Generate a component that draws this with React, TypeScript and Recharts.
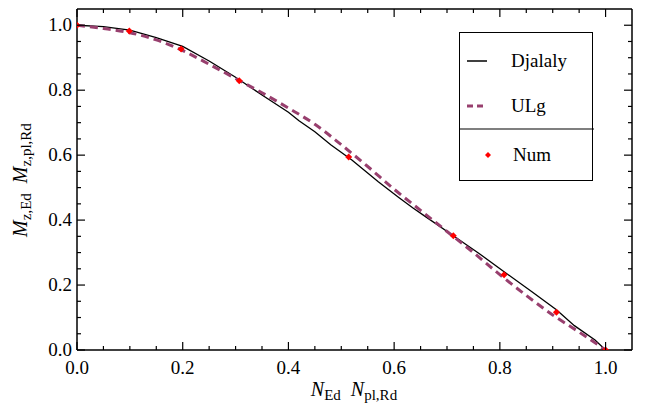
import React from "react";
import {
  ComposedChart,
  Line,
  Scatter,
  XAxis,
  YAxis,
  Legend,
} from "recharts";

// Djalaly interaction curve (N/Npl, M/Mpl)
const djalalyN = [0, 0.05, 0.1, 0.15, 0.2, 0.25, 0.3, 0.35, 0.4, 0.42, 0.45, 0.48, 0.52, 0.57, 0.61, 0.635, 0.66, 0.712, 0.76, 0.808, 0.86, 0.907, 0.941, 0.98, 1.0];
const djalalyM = [1.0, 0.996, 0.985, 0.962, 0.935, 0.89, 0.84, 0.785, 0.732, 0.706, 0.672, 0.632, 0.585, 0.518, 0.468, 0.438, 0.41, 0.352, 0.298, 0.241, 0.18, 0.124, 0.075, 0.031, 0.0];

// ULg curve
const ulgN = [0, 0.05, 0.1, 0.15, 0.2, 0.25, 0.3, 0.35, 0.4, 0.45, 0.5, 0.55, 0.6, 0.65, 0.7, 0.75, 0.8, 0.85, 0.9, 0.95, 1.0];
const ulgM = [1.0, 0.99, 0.977, 0.955, 0.922, 0.88, 0.836, 0.792, 0.745, 0.695, 0.632, 0.565, 0.495, 0.43, 0.365, 0.3, 0.232, 0.168, 0.108, 0.055, 0.0];

// Numerical results
const numN = [0, 0.099, 0.197, 0.307, 0.514, 0.712, 0.808, 0.907, 1.0];
const numM = [1.0, 0.982, 0.927, 0.829, 0.594, 0.352, 0.232, 0.116, 0.0];

const minorTicks = [0, 0.05, 0.1, 0.15, 0.2, 0.25, 0.3, 0.35, 0.4, 0.45, 0.5, 0.55, 0.6, 0.65, 0.7, 0.75, 0.8, 0.85, 0.9, 0.95, 1.0];

const djalalyData = djalalyN.map((n, i) => ({ n, m: djalalyM[i] }));
const ulgData = ulgN.map((n, i) => ({ n, m: ulgM[i] }));
const numData = numN.map((n, i) => ({ n, m: numM[i] }));

const FONT = "Liberation Serif";
const PURPLE = "#983f6e";

const isMajor = (v: number) => Math.abs(v * 5 - Math.round(v * 5)) < 1e-6;

const BottomTick = (props: any) => {
  const { x, y, payload } = props;
  const v = payload.value;
  const major = isMajor(v);
  return (
    <g>
      <line x1={x} x2={x} y1={y} y2={y - (major ? 8 : 4)} stroke="#000" strokeWidth={1.2} />
      {major && (
        <text x={x} y={y + 24} textAnchor="middle" style={{ fontFamily: FONT }} fontSize={19} fill="#000">
          {v.toFixed(1)}
        </text>
      )}
    </g>
  );
};

const TopTick = (props: any) => {
  const { x, y, payload } = props;
  const major = isMajor(payload.value);
  return <line x1={x} x2={x} y1={y} y2={y + (major ? 8 : 4)} stroke="#000" strokeWidth={1.2} />;
};

const LeftTick = (props: any) => {
  const { x, y, payload } = props;
  const v = payload.value;
  const major = isMajor(v);
  return (
    <g>
      <line x1={x} x2={x + (major ? 8 : 4)} y1={y} y2={y} stroke="#000" strokeWidth={1.2} />
      {major && (
        <text x={x - 5} y={y + 6} textAnchor="end" style={{ fontFamily: FONT }} fontSize={19} fill="#000">
          {v.toFixed(1)}
        </text>
      )}
    </g>
  );
};

const RightTick = (props: any) => {
  const { x, y, payload } = props;
  const major = isMajor(payload.value);
  return <line x1={x} x2={x - (major ? 8 : 4)} y1={y} y2={y} stroke="#000" strokeWidth={1.2} />;
};

const NumMarker = (props: any) => {
  const { cx, cy } = props;
  return (
    <path
      d={`M${cx - 3.5},${cy} L${cx},${cy - 3.5} L${cx + 3.5},${cy} L${cx},${cy + 3.5} Z`}
      fill="#ff0000"
    />
  );
};

const LegendBox = () => (
  <div
    style={{
      width: 134,
      height: 149,
      border: "1.2px solid #000",
      boxSizing: "border-box",
      background: "#fff",
      position: "relative",
    }}
  >
    <svg width={134} height={149} style={{ position: "absolute", left: 0, top: 0, fontFamily: FONT }}>
      <line x1={7} x2={27} y1={28} y2={28} stroke="#000" strokeWidth={1.5} />
      <line x1={7} x2={27} y1={73} y2={73} stroke={PURPLE} strokeWidth={3} strokeDasharray="6 4" />
      <line x1={0} x2={134} y1={96} y2={96} stroke="#000" strokeWidth={1.2} />
      <path d="M28,119 L31,122 L28,125 L25,122 Z" fill="#ff0000" />
      <text x={51} y={34} fontSize={19}>Djalaly</text>
      <text x={51} y={79} fontSize={19}>ULg</text>
      <text x={53} y={128} fontSize={19}>Num</text>
    </svg>
  </div>
);

export default function App() {
  return (
    <div style={{ position: "absolute", left: 0, top: 0, width: 651, height: 416, background: "#fff", fontFamily: FONT }}>
      <ComposedChart width={651} height={416} margin={{ top: 8, right: 18, bottom: 65, left: 76 }}>
        <XAxis
          xAxisId="b"
          type="number"
          dataKey="n"
          domain={[0, 1.05]}
          ticks={minorTicks}
          orientation="bottom"
          height={1}
          tickSize={0}
          tickMargin={0}
          tick={<BottomTick />}
          axisLine={{ stroke: "#000", strokeWidth: 1.5 }}
          allowDataOverflow
          interval={0}
        />
        <XAxis
          xAxisId="t"
          type="number"
          dataKey="n"
          domain={[0, 1.05]}
          ticks={minorTicks}
          orientation="top"
          height={1}
          tickSize={0}
          tickMargin={0}
          tick={<TopTick />}
          axisLine={{ stroke: "#000", strokeWidth: 1.5 }}
          allowDataOverflow
          interval={0}
        />
        <YAxis
          yAxisId="l"
          type="number"
          dataKey="m"
          domain={[0, 1.05]}
          ticks={minorTicks}
          orientation="left"
          width={1}
          tickSize={0}
          tickMargin={0}
          tick={<LeftTick />}
          axisLine={{ stroke: "#000", strokeWidth: 1.5 }}
          allowDataOverflow
          interval={0}
        />
        <YAxis
          yAxisId="r"
          type="number"
          dataKey="m"
          domain={[0, 1.05]}
          ticks={minorTicks}
          orientation="right"
          width={1}
          tickSize={0}
          tickMargin={0}
          tick={<RightTick />}
          axisLine={{ stroke: "#000", strokeWidth: 1.5 }}
          allowDataOverflow
          interval={0}
        />
        <Line
          xAxisId="b"
          yAxisId="l"
          data={djalalyData}
          dataKey="m"
          type="linear"
          stroke="#000"
          strokeWidth={1.3}
          dot={false}
          isAnimationActive={false}
          name="Djalaly"
        />
        <Line
          xAxisId="b"
          yAxisId="l"
          data={ulgData}
          dataKey="m"
          type="monotone"
          stroke={PURPLE}
          strokeWidth={3}
          strokeDasharray="8 5"
          dot={false}
          isAnimationActive={false}
          name="ULg"
        />
        <Scatter
          xAxisId="b"
          yAxisId="l"
          data={numData}
          dataKey="m"
          shape={<NumMarker />}
          isAnimationActive={false}
          name="Num"
        />
        <Legend
          layout="horizontal"
          verticalAlign="middle"
          align="center"
          content={<LegendBox />}
          wrapperStyle={{ position: "absolute", left: 459, top: 32, width: 134, height: 149 }}
        />
        <text
          transform="translate(27,180) rotate(-90)"
          textAnchor="middle"
          style={{ fontFamily: FONT }}
          fontSize={20}
          fill="#000"
        >
          <tspan fontStyle="italic">M</tspan>
          <tspan fontSize={15} dy={4}>z,Ed</tspan>
          <tspan dy={-4}>{"\u2002"}</tspan>
          <tspan fontStyle="italic">M</tspan>
          <tspan fontSize={15} dy={4}>z,pl,Rd</tspan>
        </text>
        <text x={354} y={396} textAnchor="middle" style={{ fontFamily: FONT }} fontSize={20} fill="#000">
          <tspan fontStyle="italic">N</tspan>
          <tspan fontSize={15} dy={4}>Ed</tspan>
          <tspan dy={-4}>{"\u2002"}</tspan>
          <tspan fontStyle="italic">N</tspan>
          <tspan fontSize={15} dy={4}>pl,Rd</tspan>
        </text>
      </ComposedChart>
    </div>
  );
}
